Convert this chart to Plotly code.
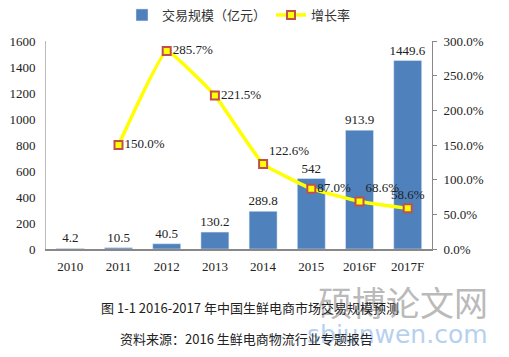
import plotly.graph_objects as go

categories = ["2010", "2011", "2012", "2013", "2014", "2015", "2016F", "2017F"]
volume = [4.2, 10.5, 40.5, 130.2, 289.8, 542, 913.9, 1449.6]
volume_labels = ["4.2", "10.5", "40.5", "130.2", "289.8", "542", "913.9", "1449.6"]
growth = [None, 1.500, 2.857, 2.215, 1.226, 0.870, 0.686, 0.586]
growth_labels = ["", "150.0%", "285.7%", "221.5%", "122.6%", "87.0%", "68.6%", "58.6%"]
growth_textpos = ["middle right", "middle right", "middle right", "middle right",
                  "top right", "middle right", "top right", "top center"]

serif = "Liberation Serif, Times New Roman, serif"
cjk = "Noto Sans CJK SC, sans-serif"

fig = go.Figure()
fig.add_trace(go.Bar(
    x=categories, y=volume, name="交易规模（亿元）",
    marker=dict(color="#4F81BD"), width=0.58,
    text=volume_labels, textposition="outside", cliponaxis=False, constraintext="none",
    textfont=dict(family=serif, size=13, color="#222"),
))
fig.add_trace(go.Scatter(
    x=categories, y=growth, name="增长率", yaxis="y2",
    mode="lines+markers+text",
    line=dict(color="#FFFF00", width=3.5, shape="spline", smoothing=0.3),
    marker=dict(symbol="square", size=8, color="#FFFF00",
                line=dict(color="#C0504D", width=2)),
    text=growth_labels, textposition=growth_textpos, cliponaxis=False,
    textfont=dict(family=serif, size=13, color="#222"),
))

fig.update_layout(
    width=509, height=357,
    margin=dict(l=46, r=77, t=41, b=108, autoexpand=False),
    paper_bgcolor="white", plot_bgcolor="white",
    showlegend=True,
    legend=dict(orientation="h", x=0.5, xanchor="center", y=1.125, yanchor="middle",
                font=dict(family=cjk, size=13, color="#333"),
                traceorder="normal"),
    xaxis=dict(showline=True, linecolor="#888", linewidth=2, ticks="",
               tickfont=dict(family=serif, size=13, color="#222"), showgrid=False,
               automargin=False, ticklabelstandoff=4),
    yaxis=dict(range=[0, 1600], dtick=200, showline=True, linecolor="#bbb", linewidth=1,
               showgrid=False, ticks="", zeroline=False, automargin=False,
               ticklabelstandoff=7,
               tickfont=dict(family=serif, size=13, color="#222")),
    yaxis2=dict(range=[0, 3], dtick=0.5, tickformat=".1%", overlaying="y", side="right",
                showline=True, linecolor="#888", linewidth=1, ticks="outside",
                ticklen=4, tickcolor="#888", showgrid=False, zeroline=False,
                automargin=False, ticklabelstandoff=4,
                tickfont=dict(family=serif, size=13, color="#222")),
)

fig.add_annotation(text="硕博论文网", xref="paper", yref="paper", x=1.15, y=-0.25,
                   xanchor="right", yanchor="middle",
                   showarrow=False, opacity=0.5,
                   font=dict(family=cjk, size=34, color="#777"))
fig.add_annotation(text="sbiunwen.com", xref="paper", yref="paper", x=1.15, y=-0.41,
                   xanchor="right", yanchor="middle",
                   showarrow=False, opacity=0.5,
                   font=dict(family="DejaVu Sans, sans-serif", size=25, color="#6fa4e0"))
fig.add_annotation(text="图 1-1 2016-2017 年中国生鲜电商市场交易规模预测", xref="paper", yref="paper",
                   x=0.528, y=-0.279, xanchor="center", yanchor="middle", showarrow=False,
                   font=dict(family=cjk, size=13, color="#222"))
fig.add_annotation(text="资料来源：2016 生鲜电商物流行业专题报告", xref="paper", yref="paper",
                   x=0.52, y=-0.428, xanchor="center", yanchor="middle", showarrow=False,
                   font=dict(family=cjk, size=13, color="#222"))

fig.write_html("out.html", config={"displayModeBar": False},
               post_script="document.body.style.margin='0px';")
